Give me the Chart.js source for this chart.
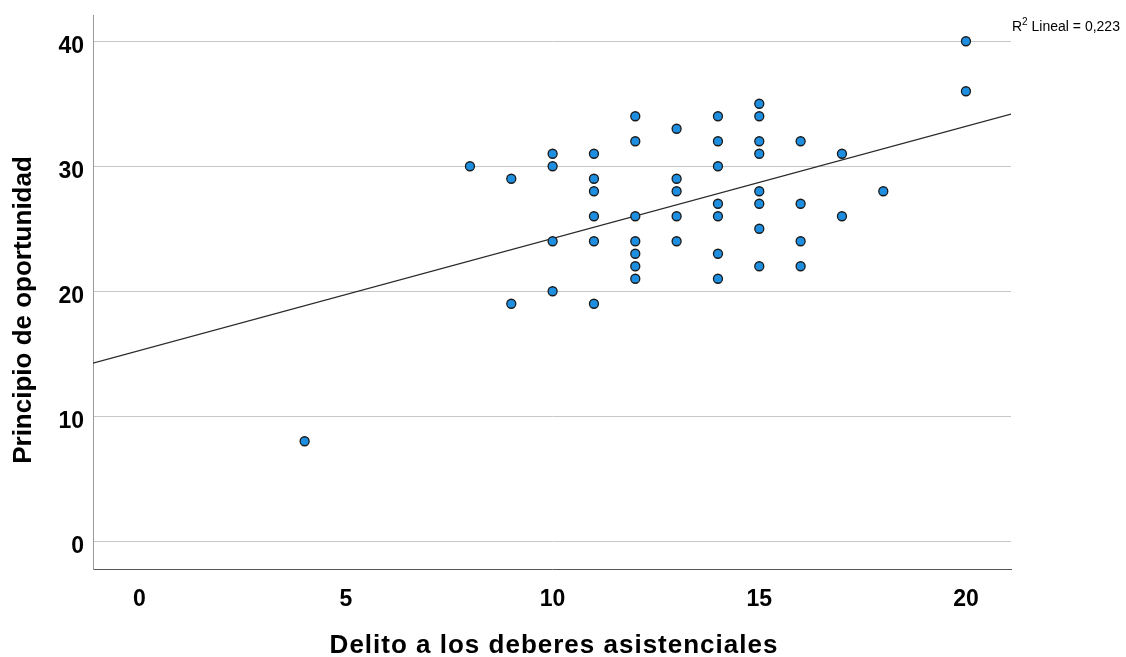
<!DOCTYPE html>
<html lang="es">
<head>
<meta charset="utf-8">
<title>Principio de oportunidad / Delito a los deberes asistenciales</title>
<script src="https://cdn.jsdelivr.net/npm/chart.js@4.4.1/dist/chart.umd.min.js"></script>
<style>
  html, body { margin: 0; padding: 0; background: #fff; }
  #scatterChart { display: block; }
</style>
</head>
<body>
<canvas id="scatterChart" width="1126" height="657"></canvas>
<script>
// --- Data ---
const delitoX = [4, 8, 9, 9, 10, 10, 10, 10, 11, 11, 11, 11, 11, 11,
  12, 12, 12, 12, 12, 12, 12, 13, 13, 13, 13, 13, 14, 14, 14, 14, 14, 14, 14,
  15, 15, 15, 15, 15, 15, 15, 15, 16, 16, 16, 16, 17, 17, 18, 20, 20];
const principioY = [8, 30, 29, 19, 31, 30, 24, 20, 31, 29, 28, 26, 24, 19,
  34, 32, 26, 24, 23, 22, 21, 33, 29, 28, 26, 24, 34, 32, 30, 27, 26, 23, 21,
  35, 34, 32, 31, 28, 27, 25, 22, 32, 27, 24, 22, 31, 26, 28, 40, 36];

const xTicks = [0, 5, 10, 15, 20];
const yTicks = [0, 10, 20, 30, 40];
const xRange = [-1.12, 21.09];
const yRange = [-2.22, 42.1];

// fitted line as drawn in the picture
const fitIntercept = 15.26;
const fitSlope = 0.897;
const r2Text = "0,223";

const xTitle = "Delito a los deberes asistenciales";
const yTitle = "Principio de oportunidad";

const FONT = '"Liberation Sans", Arial, sans-serif';
Chart.defaults.font.family = FONT;

// titles + R2 annotation (SPSS puts the y title a bit below centre)
const spssLabels = {
    id: "spssLabels",
    afterDraw(chart) {
        const { ctx, chartArea } = chart;
        ctx.save();
        ctx.fillStyle = "#000";

        // x title
        ctx.font = `bold 26px ${FONT}`;
        ctx.textAlign = "center";
        ctx.textBaseline = "alphabetic";
        ctx.letterSpacing = "1px";
        ctx.fillText(xTitle, (chartArea.left + chartArea.right) / 2 + 2, chartArea.bottom + 84);
        ctx.letterSpacing = "0px";

        // y title
        ctx.save();
        ctx.translate(23.5, (chartArea.top + chartArea.bottom) / 2 + 18);
        ctx.rotate(-Math.PI / 2);
        ctx.textBaseline = "middle";
        ctx.fillText(yTitle, 0, 0);
        ctx.restore();

        // R2 Lineal label
        ctx.textAlign = "left";
        ctx.textBaseline = "alphabetic";
        let x = chartArea.right + 1;
        const base = 31;
        ctx.font = `14px ${FONT}`;
        ctx.fillText("R", x, base);
        x += ctx.measureText("R").width;
        ctx.font = `10px ${FONT}`;
        ctx.fillText("2", x, base - 6);
        x += ctx.measureText("2").width;
        ctx.font = `14px ${FONT}`;
        ctx.fillText(" Lineal = " + r2Text, x, base);

        ctx.restore();
    }
};

document.addEventListener("DOMContentLoaded", () => {
    const points = delitoX.map((x, i) => ({ x: x, y: principioY[i] }));
    const fitPoints = xRange.map(x => ({ x: x, y: fitIntercept + fitSlope * x }));

    const tickFont = { size: 23, weight: "bold", family: FONT };

    new Chart(document.getElementById("scatterChart"), {
        type: "scatter",
        data: {
            datasets: [
                {
                    label: "Observado",
                    data: points,
                    pointRadius: 4.5,
                    pointHoverRadius: 4.5,
                    pointBackgroundColor: "#1e8ee0",
                    pointBorderColor: "#1a1a1a",
                    pointBorderWidth: 1.3,
                    order: 1
                },
                {
                    type: "line",
                    label: "Lineal",
                    data: fitPoints,
                    borderColor: "#2a2a2a",
                    borderWidth: 1.3,
                    pointRadius: 0,
                    fill: false,
                    tension: 0,
                    order: 2
                }
            ]
        },
        options: {
            responsive: false,
            animation: false,
            layout: { padding: { top: 15, right: 115, left: 0, bottom: 0 } },
            plugins: {
                legend: { display: false },
                tooltip: { enabled: false }
            },
            scales: {
                x: {
                    type: "linear",
                    min: xRange[0],
                    max: xRange[1],
                    afterBuildTicks: s => { s.ticks = xTicks.map(v => ({ value: v })); },
                    afterFit: s => {
                        s.height = 88;
                        s.paddingLeft = 0;
                        s.paddingRight = 0;
                    },
                    grid: { display: false },
                    border: { color: "#555", width: 1 },
                    ticks: { color: "#000", font: tickFont, padding: 9, maxRotation: 0 }
                },
                y: {
                    type: "linear",
                    min: yRange[0],
                    max: yRange[1],
                    afterBuildTicks: s => { s.ticks = yTicks.map(v => ({ value: v })); },
                    afterFit: s => {
                        s.width = 93;
                        s.paddingTop = 0;
                        s.paddingBottom = 0;
                    },
                    grid: { color: "#c8c8c8", lineWidth: 1, drawTicks: false },
                    border: { color: "#999", width: 1 },
                    ticks: { color: "#000", font: tickFont, padding: 9, labelOffset: 5 }
                }
            }
        },
        plugins: [spssLabels]
    });
});
</script>
</body>
</html>
